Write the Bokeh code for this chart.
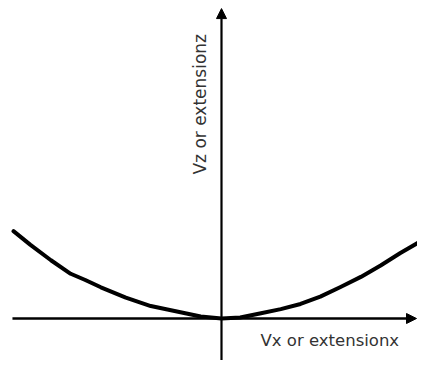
import math
from bokeh.plotting import figure
from bokeh.models import Range1d, Arrow, NormalHead, Label
from bokeh.embed import file_html
from bokeh.resources import INLINE

# curve values (arbitrary units)
curve_x = [-2.0, -1.84, -1.64, -1.45, -1.31, -1.16, -0.92, -0.68, -0.44, -0.2, 0.0,
           0.18, 0.38, 0.57, 0.76, 0.95, 1.14, 1.34, 1.53, 1.72, 1.91, 2.04]
curve_y = [0.84, 0.71, 0.56, 0.43, 0.37, 0.30, 0.20, 0.12, 0.07, 0.02, 0.0,
           0.01, 0.05, 0.09, 0.14, 0.21, 0.30, 0.40, 0.51, 0.63, 0.74, 0.88]

x_label = "Vx or extensionx"
y_label = "Vz or extensionz"

p = figure(width=417, height=360, output_backend="svg", toolbar_location=None,
           x_range=Range1d(-2.125, 1.8846), y_range=Range1d(-0.4038, 3.0577),
           min_border=0, outline_line_color=None)
p.axis.visible = False
p.grid.visible = False
p.background_fill_color = "white"
p.border_fill_color = "white"

# axes with arrows
p.add_layout(Arrow(end=NormalHead(size=10, fill_color="black", line_color="black", line_width=1),
                   x_start=-2.01, y_start=0.0, x_end=1.875, y_end=0.0,
                   line_color="black", line_width=2.5))
p.add_layout(Arrow(end=NormalHead(size=10, fill_color="black", line_color="black", line_width=1),
                   x_start=0.0, y_start=-0.6, x_end=0.0, y_end=2.98,
                   line_color="black", line_width=2.2))

# curve
p.line(curve_x, curve_y, line_color="black", line_width=4, line_join="round", line_cap="round")

p.add_layout(Label(x=0.375, y=-0.21, text=x_label, text_align="left",
                   text_baseline="alphabetic", text_font="DejaVu Sans",
                   text_font_size="16.5px", text_color="#333333"))
p.add_layout(Label(x=-0.21, y=2.06, text=y_label, text_align="center",
                   text_baseline="middle", angle=math.pi / 2, text_font="DejaVu Sans",
                   text_font_size="17px", text_color="#333333"))

open("out.html", "w").write(file_html(p, INLINE))
